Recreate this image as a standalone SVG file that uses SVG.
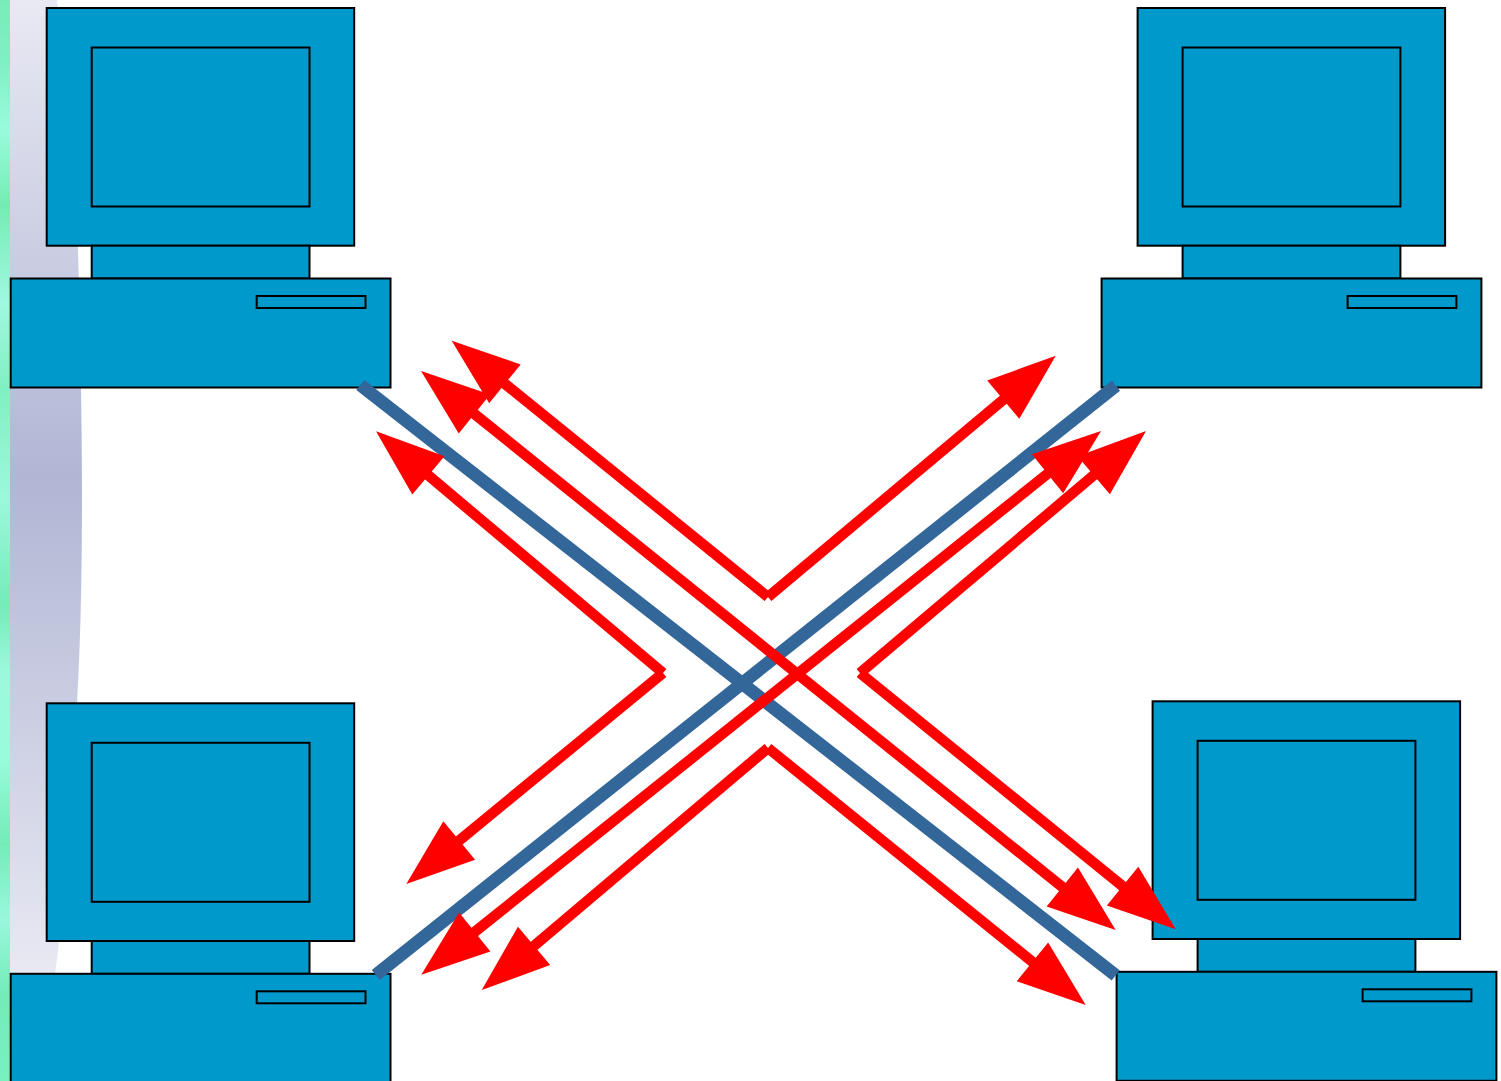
<svg xmlns="http://www.w3.org/2000/svg" width="1501" height="1081" viewBox="0 0 1501 1081">
<style>
.pc{fill:#0099cc;stroke:#000;stroke-width:2}
.red{fill:none;stroke:#ff0000;stroke-width:10.500}
.blue{fill:none;stroke:#336699;stroke-width:13}
</style>
<defs>
<linearGradient id="lav" x1="0" y1="0" x2="0" y2="1">
<stop offset="0" stop-color="#e9e9f3"/>
<stop offset="0.49" stop-color="#b0b6d4"/>
<stop offset="1" stop-color="#e9e9f3"/>
</linearGradient>
<linearGradient id="strip" x1="0" y1="0" x2="0" y2="1">
<stop offset="0" stop-color="#78ecb8"/>
<stop offset="0.06" stop-color="#80f0c4"/>
<stop offset="0.12" stop-color="#98fcdc"/>
<stop offset="0.19" stop-color="#74ecb4"/>
<stop offset="0.28" stop-color="#a0f8e0"/>
<stop offset="0.36" stop-color="#80f0c0"/>
<stop offset="0.46" stop-color="#9cf8dc"/>
<stop offset="0.56" stop-color="#74ecb8"/>
<stop offset="0.62" stop-color="#9cf8dc"/>
<stop offset="0.7" stop-color="#98fcdc"/>
<stop offset="0.78" stop-color="#74ecb8"/>
<stop offset="0.85" stop-color="#98f8dc"/>
<stop offset="0.92" stop-color="#74ecb8"/>
<stop offset="1" stop-color="#78f0c0"/>
</linearGradient>
<marker id="head" markerUnits="userSpaceOnUse" markerWidth="72" markerHeight="54" refX="28.500" refY="27" orient="auto-start-reverse" overflow="visible">
<path d="M0,2 L68.500,27 L0,52 Z" fill="#ff0000"/>
</marker>
<g id="pc">
<rect class="pc" x="46.700" y="8" width="307.500" height="237.700"/>
<rect class="pc" x="91.700" y="47.500" width="217.800" height="159"/>
<rect class="pc" x="91.700" y="245.700" width="217.800" height="32.800"/>
<rect class="pc" x="10.700" y="278.500" width="379.800" height="109"/>
<rect class="pc" x="256.700" y="296" width="108.800" height="12"/>
</g>
</defs>
<g id="background">
<path d="M10,0 H57 C68,90 76,190 78,250 C80,320 82,420 82,490 C82,590 80,650 77,705 C73,800 65,900 55,975 H10 Z" fill="url(#lav)"/>
<rect x="0" y="0" width="10" height="1081" fill="url(#strip)"/>
</g>
<g id="computer-top-left"><use href="#pc"/></g>
<g id="computer-top-right"><use href="#pc" transform="translate(1090.900,0)"/></g>
<g id="computer-bottom-left"><use href="#pc" transform="translate(0,695.300)"/></g>
<g id="computer-bottom-right"><use href="#pc" transform="translate(1105.900,693.300)"/></g>
<g id="connectors">
<line class="blue" x1="360.300" y1="385" x2="1115.700" y2="975.300"/>
<line class="blue" x1="1116" y1="385.700" x2="375.800" y2="975"/>
<line class="red" x1="452.200" y1="396.100" x2="1084.500" y2="904.900" marker-start="url(#head)" marker-end="url(#head)"/>
<line class="red" x1="1069.800" y1="456" x2="452.500" y2="949.700" marker-start="url(#head)" marker-end="url(#head)"/>
<line class="red" x1="768" y1="597" x2="482.800" y2="365.900" marker-end="url(#head)"/>
<line class="red" x1="768" y1="597" x2="1025.100" y2="381.400" marker-end="url(#head)"/>
<line class="red" x1="663" y1="673" x2="406.600" y2="457.100" marker-end="url(#head)"/>
<line class="red" x1="663" y1="673" x2="437.200" y2="858.600" marker-end="url(#head)"/>
<line class="red" x1="860" y1="673" x2="1115.500" y2="456.800" marker-end="url(#head)"/>
<line class="red" x1="860" y1="673" x2="1144.700" y2="904.100" marker-end="url(#head)"/>
<line class="red" x1="768" y1="748" x2="512.300" y2="964.200" marker-end="url(#head)"/>
<line class="red" x1="768" y1="748" x2="1054.600" y2="979.800" marker-end="url(#head)"/>
</g>
</svg>
